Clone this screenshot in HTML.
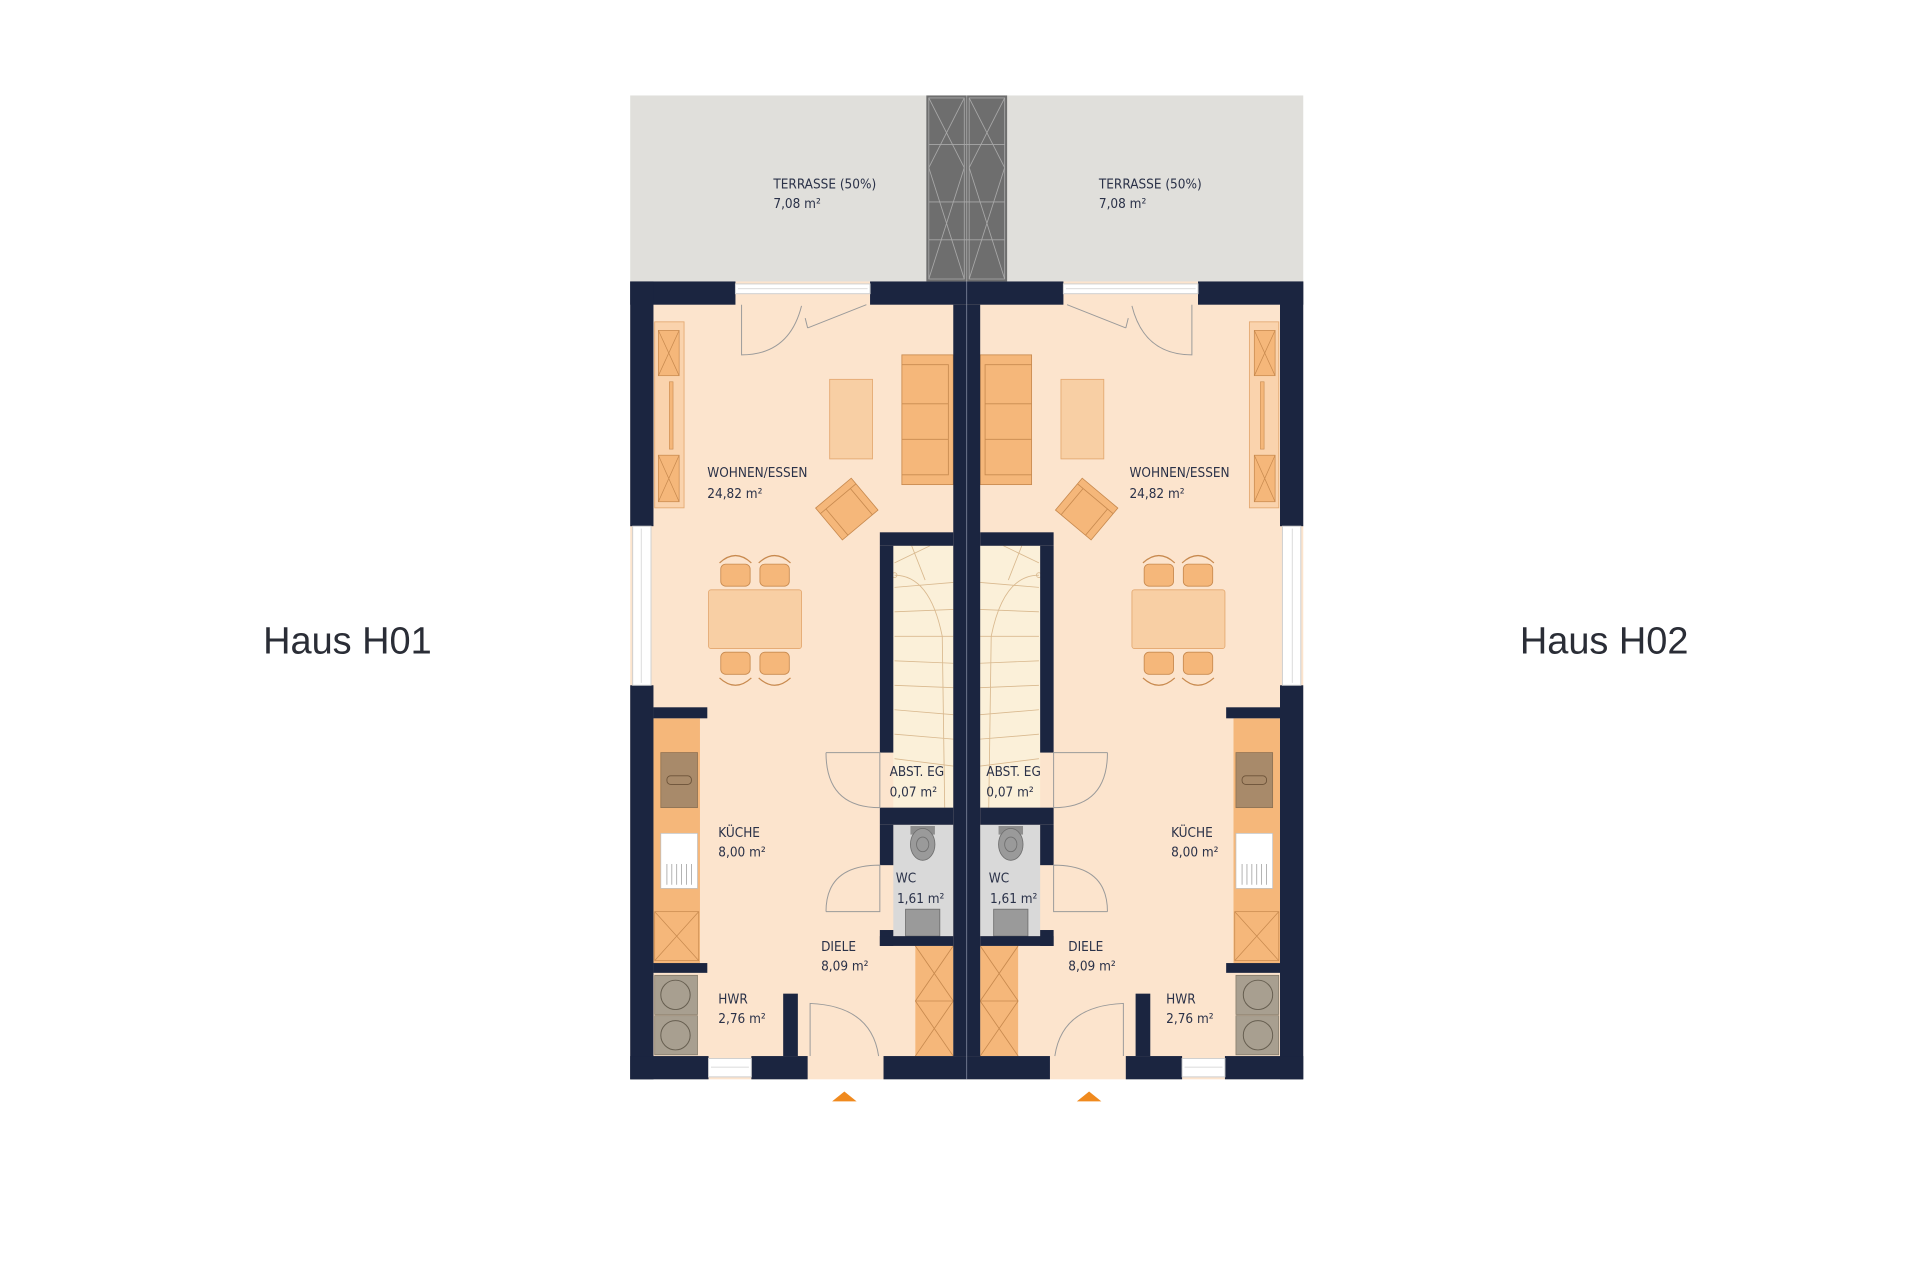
<!DOCTYPE html>
<html><head><meta charset="utf-8"><style>
html,body{margin:0;padding:0;background:#fff;}
svg{display:block;}
text{font-family:"DejaVu Sans Condensed","Liberation Sans Narrow","Liberation Sans",sans-serif;fill:#2a3148;font-size:11px;}
.big{font-family:"Liberation Sans",sans-serif;font-size:31px;fill:#2a2d36;font-weight:300;}
</style></head><body>
<svg width="1920" height="1280" viewBox="0 0 1569 1046" xmlns="http://www.w3.org/2000/svg">
<rect width="1569" height="1046" fill="#fff"/>
<!-- terrace -->
<rect x="515" y="78" width="550" height="152" fill="#e0dfdb"/>
<rect x="757" y="78" width="66" height="152" fill="#6e6e6e"/>
<g stroke="#a8a8a8" stroke-width="0.7" fill="none">
<line x1="790" y1="78" x2="790" y2="230"/>
<path d="M759,80 L788,80 L788,228 L759,228 Z M792,80 L821,80 L821,228 L792,228 Z"/>
<path d="M759,80 L788,137 M788,80 L759,137 M792,80 L821,137 M821,80 L792,137 M759,137 L788,228 M788,137 L759,228 M792,137 L821,228 M821,137 L792,228"/>
<path d="M759,118 H821 M759,165 H821 M759,196 H821"/>
</g>
<!-- floor -->
<rect x="515" y="230" width="550" height="652" fill="#fce4cd"/>
<g id="house">
<rect x="730" y="446" width="49" height="214" fill="#fbf0d9"/>
<g stroke="#d9b98f" stroke-width="0.7" fill="none">
<path d="M731,480 L779,476 M731,500 L779,498 M731,520 L779,520 M731,540 L779,542 M731,560 L779,562 M731,580 L779,584 M731,600 L779,604 M731,620 L779,626 M731,460 L760,446 M745,446 L756,474 M731,470 Q760,470 770,520 L772,660"/>
<circle cx="731" cy="470" r="2"/>
</g>
<rect x="730" y="674" width="49" height="91" fill="#d9d9d9"/>
<rect x="744" y="675" width="20" height="7" fill="#8e8e8e"/>
<ellipse cx="754" cy="690" rx="10" ry="13" fill="#9a9a9a" stroke="#6f6f6f" stroke-width="0.7"/>
<ellipse cx="754" cy="690" rx="5" ry="6" fill="none" stroke="#6f6f6f" stroke-width="0.7"/>
<rect x="740" y="743" width="28" height="22" fill="#9a9a9a" stroke="#6f6f6f" stroke-width="0.7"/>
<rect x="748" y="773" width="31" height="90" fill="#f5b77a"/>
<g stroke="#c88a4f" stroke-width="0.7" fill="none"><path d="M748,773 L779,818 M779,773 L748,818 M748,818 L779,863 M779,818 L748,863 M748,818 H779"/></g>
<rect x="535" y="263" width="24" height="152" fill="#fad3ad" stroke="#e3a870" stroke-width="0.7"/>
<rect x="538" y="270" width="17" height="37" fill="#f5b77a" stroke="#c88a4f" stroke-width="0.6"/>
<rect x="538" y="372" width="17" height="38" fill="#f5b77a" stroke="#c88a4f" stroke-width="0.6"/>
<path d="M538,270 L555,307 M555,270 L538,307 M538,372 L555,410 M555,372 L538,410" stroke="#c88a4f" stroke-width="0.6"/>
<rect x="547" y="312" width="3" height="55" fill="#f5b77a" stroke="#c88a4f" stroke-width="0.5"/>
<rect x="678" y="310" width="35" height="65" fill="#f8cfa4" stroke="#e3a870" stroke-width="0.7"/>
<rect x="737" y="290" width="42" height="106" fill="#f5b77a" stroke="#c88a4f" stroke-width="0.7"/>
<path d="M737,298 H775 V388 H737 M737,330 H775 M737,359 H775" fill="none" stroke="#c88a4f" stroke-width="0.7"/>
<g transform="translate(692,416) rotate(-40)">
<rect x="-19" y="-17" width="38" height="34" fill="#f5b77a" stroke="#c88a4f" stroke-width="0.7"/>
<path d="M-19,-11 H19 M-13,-11 V17 M13,-11 V17" fill="none" stroke="#c88a4f" stroke-width="0.7"/>
</g>
<rect x="579" y="482" width="76" height="48" rx="2" fill="#f8cfa4" stroke="#e3a870" stroke-width="0.7"/>
<g fill="#f5b77a" stroke="#c88a4f" stroke-width="0.7">
<rect x="589" y="461" width="24" height="18" rx="4"/><rect x="621" y="461" width="24" height="18" rx="4"/>
<rect x="589" y="533" width="24" height="18" rx="4"/><rect x="621" y="533" width="24" height="18" rx="4"/>
</g>
<path d="M588,460 Q601,448 614,460 M620,460 Q633,448 646,460 M588,554 Q601,566 614,554 M620,554 Q633,566 646,554" fill="none" stroke="#c88a4f" stroke-width="1"/>
<rect x="534" y="587" width="38" height="200" fill="#f5b77a"/>
<rect x="540" y="615" width="30" height="45" fill="#a88a6a" stroke="#8a6e50" stroke-width="0.6"/>
<rect x="545" y="634" width="20" height="7" rx="3" fill="none" stroke="#6b5238" stroke-width="0.7"/>
<rect x="540" y="681" width="30" height="45" fill="#fff" stroke="#c0c0c0" stroke-width="0.6"/>
<path d="M545,706 V723 M549,706 V723 M553,706 V723 M557,706 V723 M561,706 V723 M565,706 V723" stroke="#999" stroke-width="0.6"/>
<rect x="535" y="745" width="36" height="40" fill="#f5b77a" stroke="#c88a4f" stroke-width="0.6"/>
<path d="M535,745 L571,785 M571,745 L535,785" stroke="#c88a4f" stroke-width="0.6"/>
<rect x="535" y="797" width="35" height="32" fill="#a89f90" stroke="#807766" stroke-width="0.6"/>
<rect x="535" y="830" width="35" height="32" fill="#a89f90" stroke="#807766" stroke-width="0.6"/>
<circle cx="552" cy="813" r="12" fill="none" stroke="#665e50" stroke-width="0.8"/>
<circle cx="552" cy="846" r="12" fill="none" stroke="#665e50" stroke-width="0.8"/>
<g fill="#1b2540">
<rect x="515" y="230" width="86" height="19"/>
<rect x="711" y="230" width="79" height="19"/>
<rect x="515" y="230" width="19" height="200"/>
<rect x="515" y="560" width="19" height="322"/>
<rect x="515" y="863" width="64" height="19"/>
<rect x="614" y="863" width="46" height="19"/>
<rect x="722" y="863" width="68" height="19"/>
<rect x="779" y="249" width="11" height="614"/>
<rect x="719" y="435" width="60" height="11"/>
<rect x="719" y="446" width="11" height="169"/>
<rect x="719" y="660" width="60" height="14"/>
<rect x="719" y="674" width="11" height="33"/>
<rect x="719" y="760" width="11" height="13"/>
<rect x="719" y="765" width="60" height="8"/>
<rect x="534" y="578" width="44" height="9"/>
<rect x="534" y="787" width="44" height="8"/>
<rect x="640" y="812" width="12" height="51"/>
</g>
<g fill="#fff" stroke="#cfcfcf" stroke-width="0.8">
<rect x="601" y="232" width="110" height="8"/>
<rect x="517" y="430" width="15" height="130"/>
<rect x="579" y="865" width="35" height="15"/>
</g>
<path d="M603,236 H709 M524,432 V558 M581,872 H612" stroke="#cfcfcf" stroke-width="0.6"/>
<g fill="none" stroke="#9a9a9a" stroke-width="0.8">
<path d="M606,249 V290 Q645,290 655,250"/>
<path d="M660,268 L708,249 M660,268 L658,260"/>
<path d="M675,615 H719 V660 Q675,660 675,615"/>
<path d="M675,745 H719 V707 Q675,707 675,745"/>
<path d="M662,863 V820 Q712,822 718,863"/>
</g>
<polygon points="680,900 690,892 700,900" fill="#f08a1e"/>
</g>
<use href="#house" transform="translate(1580,0) scale(-1,1)"/>
<line x1="790" y1="230" x2="790" y2="882" stroke="#8a93a8" stroke-width="0.6"/>
<text x="632" y="154">TERRASSE (50%)</text><text x="632" y="170">7,08 m²</text>
<text x="898" y="154">TERRASSE (50%)</text><text x="898" y="170">7,08 m²</text>
<text x="578" y="390">WOHNEN/ESSEN</text><text x="578" y="407">24,82 m²</text>
<text x="923" y="390">WOHNEN/ESSEN</text><text x="923" y="407">24,82 m²</text>
<text x="727" y="634">ABST. EG</text><text x="727" y="651">0,07 m²</text>
<text x="806" y="634">ABST. EG</text><text x="806" y="651">0,07 m²</text>
<text x="587" y="684">KÜCHE</text><text x="587" y="700">8,00 m²</text>
<text x="957" y="684">KÜCHE</text><text x="957" y="700">8,00 m²</text>
<text x="732" y="721">WC</text><text x="733" y="738">1,61 m²</text>
<text x="808" y="721">WC</text><text x="809" y="738">1,61 m²</text>
<text x="671" y="777">DIELE</text><text x="671" y="793">8,09 m²</text>
<text x="873" y="777">DIELE</text><text x="873" y="793">8,09 m²</text>
<text x="587" y="820">HWR</text><text x="587" y="836">2,76 m²</text>
<text x="953" y="820">HWR</text><text x="953" y="836">2,76 m²</text>
<text class="big" x="215" y="534">Haus H01</text>
<text class="big" x="1242" y="534">Haus H02</text>
</svg>
</body></html>
